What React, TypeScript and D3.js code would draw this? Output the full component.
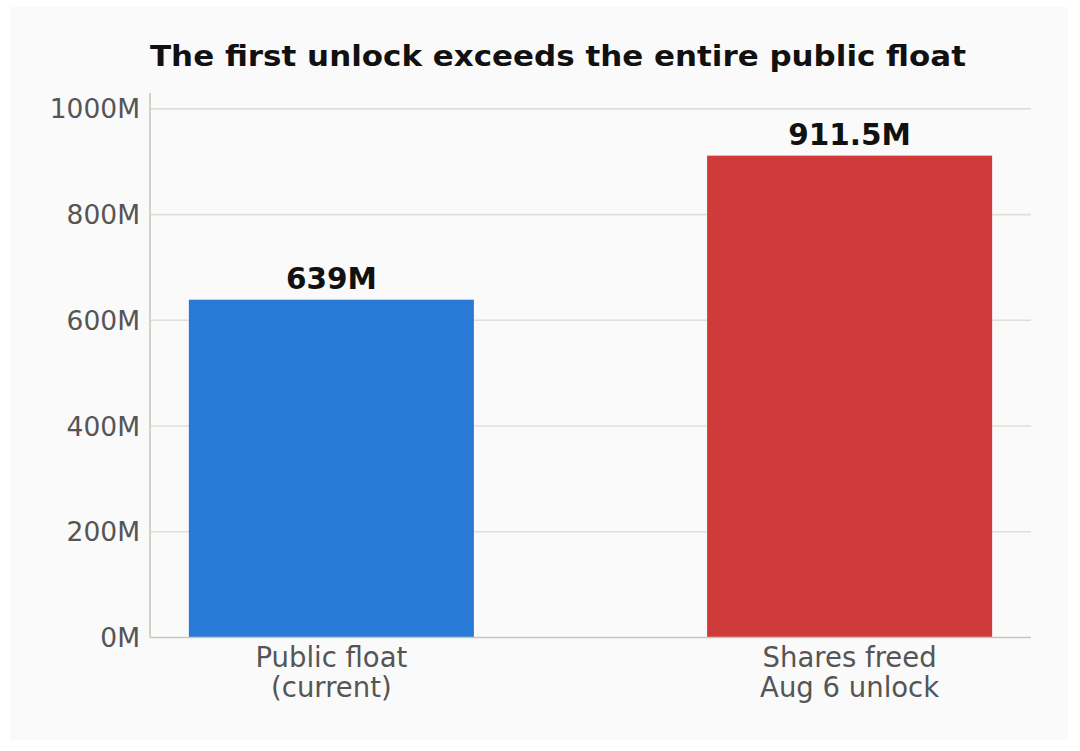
import { useRef, useEffect } from "react";
import * as d3 from "d3";

const categories = ["Public float\n(current)", "Shares freed\nAug 6 unlock"];
const values = [639, 911.5];
const valueLabels = ["639M", "911.5M"];
const yTicks = [0, 200, 400, 600, 800, 1000];
const title = "The first unlock exceeds the entire public float";

const COLORS = {
  page: "#ffffff",
  panel: "#fafafa",
  bars: ["#2979d6", "#cf3b3b"],
  grid: "#e0dfd6",
  spine: "#c8c8bb",
  tickText: "#555555",
  label: "#111111",
};

const FONT = "'DejaVu Sans', sans-serif";

export default function App() {
  const svgRef = useRef<SVGSVGElement>(null);
  const width = 1080;
  const height = 751;

  useEffect(() => {
    if (!svgRef.current) return;
    const svg = d3.select(svgRef.current);
    svg.selectAll("*").remove();

    const plot = { left: 150, right: 1031, top: 93, bottom: 637.5 };

    // background panel
    svg.append("rect").attr("width", width).attr("height", height).attr("fill", COLORS.page);
    svg
      .append("rect")
      .attr("x", 10)
      .attr("y", 7)
      .attr("width", 1058)
      .attr("height", 733)
      .attr("fill", COLORS.panel);

    const x = d3.scaleLinear().domain([-0.35, 1.35]).range([plot.left, plot.right]);
    const y = d3
      .scaleLinear()
      .domain([0, d3.max(values)! * 1.13])
      .range([plot.bottom, plot.top]);
    const barW = x(0.55) - x(0);

    // Grid
    svg
      .append("g")
      .selectAll("line")
      .data(yTicks.filter((t) => t > 0))
      .enter()
      .append("line")
      .attr("x1", plot.left)
      .attr("x2", plot.right)
      .attr("y1", (d) => y(d))
      .attr("y2", (d) => y(d))
      .attr("stroke", COLORS.grid)
      .attr("stroke-width", 1.6);

    // Bars
    svg
      .append("g")
      .selectAll("rect")
      .data(values)
      .enter()
      .append("rect")
      .attr("x", (_, i) => x(i) - barW / 2)
      .attr("width", barW)
      .attr("y", (d) => y(d))
      .attr("height", (d) => y(0) - y(d))
      .attr("fill", (_, i) => COLORS.bars[i]);

    // Value labels
    svg
      .append("g")
      .selectAll("text")
      .data(values)
      .enter()
      .append("text")
      .attr("x", (_, i) => x(i))
      .attr("y", (d) => y(d) - 11)
      .attr("text-anchor", "middle")
      .attr("font-family", FONT)
      .attr("font-weight", "bold")
      .attr("font-size", "29.5px")
      .attr("fill", COLORS.label)
      .text((_, i) => valueLabels[i]);

    // Spines
    svg
      .append("line")
      .attr("x1", plot.left)
      .attr("x2", plot.left)
      .attr("y1", plot.top)
      .attr("y2", plot.bottom)
      .attr("stroke", COLORS.spine)
      .attr("stroke-width", 1.6);
    svg
      .append("line")
      .attr("x1", plot.left)
      .attr("x2", plot.right)
      .attr("y1", plot.bottom)
      .attr("y2", plot.bottom)
      .attr("stroke", COLORS.spine)
      .attr("stroke-width", 1.6);

    // Y tick labels
    svg
      .append("g")
      .selectAll("text")
      .data(yTicks)
      .enter()
      .append("text")
      .attr("x", plot.left - 10)
      .attr("y", (d) => y(d))
      .attr("dy", "0.36em")
      .attr("text-anchor", "end")
      .attr("font-family", FONT)
      .attr("font-size", "26.5px")
      .attr("fill", COLORS.tickText)
      .text((d) => `${d}M`);

    // Category labels
    const cat = svg
      .append("g")
      .selectAll("text")
      .data(categories)
      .enter()
      .append("text")
      .attr("x", (_, i) => x(i))
      .attr("y", plot.bottom + 29)
      .attr("text-anchor", "middle")
      .attr("font-family", FONT)
      .attr("font-size", "27.5px")
      .attr("fill", COLORS.tickText);
    cat
      .selectAll("tspan")
      .data((d) => d.split("\n"))
      .enter()
      .append("tspan")
      .attr("x", function () {
        return (this as SVGTSpanElement).parentElement!.getAttribute("x");
      })
      .attr("dy", (_, i) => (i === 0 ? 0 : 30))
      .text((d) => d);

    // Title
    svg
      .append("text")
      .attr("x", 558)
      .attr("y", 66)
      .attr("text-anchor", "middle")
      .attr("font-family", FONT)
      .attr("font-weight", "bold")
      .attr("font-size", "29px")
      .attr("textLength", 816)
      .attr("lengthAdjust", "spacingAndGlyphs")
      .attr("fill", COLORS.label)
      .text(title);
  }, []);

  return (
    <svg
      ref={svgRef}
      width={width}
      height={height}
      style={{ position: "absolute", left: 0, top: 0, display: "block" }}
    />
  );
}
